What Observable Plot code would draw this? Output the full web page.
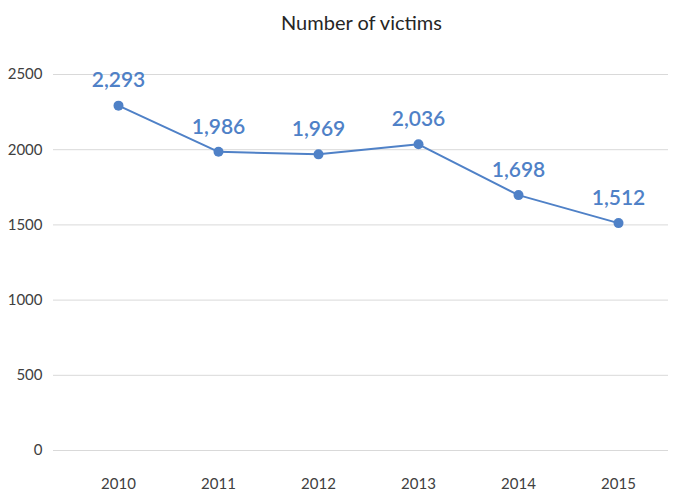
<!DOCTYPE html>
<html><head><meta charset="utf-8">
<script src="https://cdn.jsdelivr.net/npm/d3@7"></script>
<script src="https://cdn.jsdelivr.net/npm/@observablehq/plot@0.6"></script>
<style>
body{margin:0;background:#fff;font-family:Lato,"Noto Sans",sans-serif;}
#title{height:40px;line-height:44px;text-align:center;font-size:20px;color:#262626;padding-left:50px;}
</style></head>
<body>
<div id="title">Number of victims</div>
<div id="chart"></div>
<script>
const years = ["2010","2011","2012","2013","2014","2015"];
const victims = [2293, 1986, 1969, 2036, 1698, 1512];
const yTicks = [0, 500, 1000, 1500, 2000, 2500];
const data = years.map((y,i)=>({year:y, value:victims[i]}));
const blue = "#4f81c7";
const chart = Plot.plot({
  width: 673, height: 451,
  marginLeft: 53, marginRight: 5, marginTop: 34, marginBottom: 41,
  style:{fontFamily:"Lato, 'Noto Sans', sans-serif", background:"#fff"},
  x:{type:"point", domain: years, range:[117, 618], padding:0, label:null},
  y:{domain:[0,2500], range:[410,34], label:null},
  marks:[
    Plot.ruleY(yTicks, {stroke:"#d9d9d9", strokeWidth:1}),
    Plot.axisY({ticks: yTicks, tickSize:0, tickPadding:11, tickFormat:d=>String(d), fontSize:15, color:"#404040", label:null}),
    Plot.axisX({tickSize:0, tickPadding:28, fontSize:15, color:"#404040", label:null}),
    Plot.line(data, {x:"year", y:"value", stroke:blue, strokeWidth:2}),
    Plot.dot(data, {x:"year", y:"value", fill:blue, r:5}),
    Plot.text(data, {x:"year", y:"value", text:d=>d3.format(",")(d.value), dy:-25, fill:blue, fontSize:21, fontWeight:600})
  ]
});
document.getElementById("chart").append(chart);
</script>
</body></html>
